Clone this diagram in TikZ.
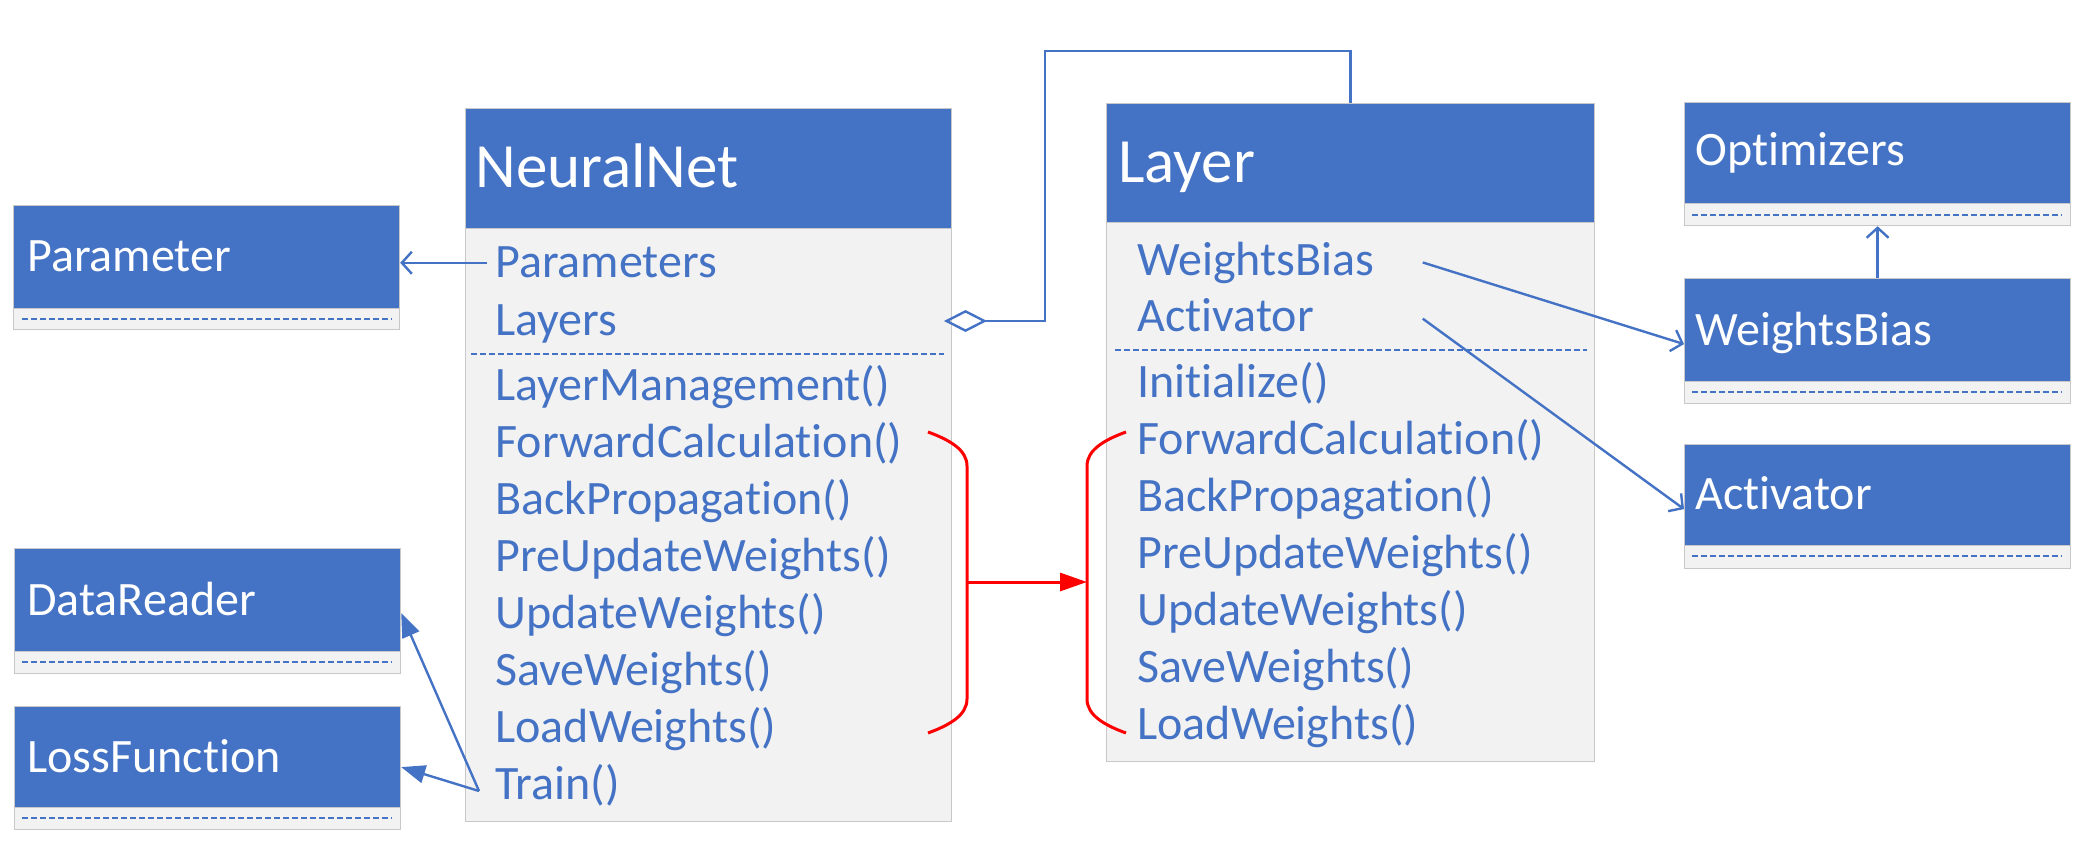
\documentclass[tikz,border=0pt]{standalone}
\usepackage{fontspec}
\setmainfont{Carlito}[RawFeature={-liga}]
\usetikzlibrary{arrows.meta,calc}
\definecolor{ublue}{HTML}{4472C4}
\definecolor{bodyg}{HTML}{F2F2F2}
\definecolor{edgeg}{HTML}{C8C8C8}
\begin{document}
\begin{tikzpicture}[x=0.5pt,y=-0.5pt,
 hdr/.style={draw=edgeg, line width=0.6pt, fill=ublue, anchor=north west, inner sep=0, minimum width=193pt},
 bdy/.style={draw=edgeg, line width=0.6pt, fill=bodyg, anchor=north west, inner sep=0, minimum width=193pt},
 ttl/.style={anchor=base west, inner sep=0, text=white, font=\fontsize{24}{29}\selectfont},
 bigttl/.style={anchor=base west, inner sep=0, text=white, font=\fontsize{31.5}{38}\selectfont},
 itm/.style={anchor=base west, inner sep=0, text=ublue, font=\fontsize{24}{29}\selectfont},
 dsh/.style={ublue, line width=0.9pt, dash pattern=on 3pt off 1.5pt},
 barb/.style={ublue, line width=1.2pt, -{Straight Barb[length=5pt,width=11pt]}},
 tri/.style={ublue, line width=1.2pt, -{Triangle[length=12pt,width=9pt]}},
 redln/.style={draw=red, line width=1.5pt}
]
\useasboundingbox (0,0) rectangle (2100,856);

% ---- left small boxes
\node[bdy, minimum height=10.5pt] (paramB) at (13,308) {};
\node[hdr, minimum height=51.5pt] (paramH) at (13,205) {};
\node[ttl] (paramT) at (27,271) {Parameter};
\draw[dsh] (22,319) -- (392,319);

\node[bdy, minimum height=11pt] (drB) at (14,651) {};
\node[hdr, minimum height=51.5pt] (drH) at (14,548) {};
\node[ttl] (drT) at (27,615) {DataReader};
\draw[dsh] (22,662) -- (392,662);

\node[bdy, minimum height=11pt] (lfB) at (14,807) {};
\node[hdr, minimum height=50.5pt] (lfH) at (14,706) {};
\node[ttl] (lfT) at (27,772) {LossFunction};
\draw[dsh] (22,818) -- (392,818);

% ---- NeuralNet
\node[bdy, minimum width=243pt, minimum height=296.5pt] (nnB) at (465,228) {};
\node[hdr, minimum width=243pt, minimum height=60pt] (nnH) at (465,108) {};
\node[bigttl] (nnT) at (475,187) {NeuralNet};
\node[itm] (itParams) at (495,278) {Parameters};
\node[itm] (itLayers) at (495,335) {Layers};
\draw[dsh] (471,354) -- (944,354);
\node[itm] (nnM1) at (495,400) {LayerManagement()};
\node[itm] (nnM2) at (495,457) {ForwardCalculation()};
\node[itm] (nnM3) at (495,514) {BackPropagation()};
\node[itm] (nnM4) at (495,571) {PreUpdateWeights()};
\node[itm] (nnM5) at (495,628) {UpdateWeights()};
\node[itm] (nnM6) at (495,685) {SaveWeights()};
\node[itm] (nnM7) at (495,742) {LoadWeights()};
\node[itm] (itTrain) at (495,799) {Train()};

% ---- Layer
\node[bdy, minimum width=244pt, minimum height=269.5pt] (layB) at (1106,222) {};
\node[hdr, minimum width=244pt, minimum height=59.5pt] (layH) at (1106,103) {};
\node[bigttl] (layT) at (1118,183) {Layer};
\node[itm] (itWB) at (1137,275) {WeightsBias};
\node[itm] (itAct) at (1137,331) {Activator};
\draw[dsh] (1115,350) -- (1587,350);
\node[itm] (layM1) at (1137,397) {Initialize()};
\node[itm] (layM2) at (1137,454) {ForwardCalculation()};
\node[itm] (layM3) at (1137,511) {BackPropagation()};
\node[itm] (layM4) at (1137,568) {PreUpdateWeights()};
\node[itm] (layM5) at (1137,625) {UpdateWeights()};
\node[itm] (layM6) at (1137,682) {SaveWeights()};
\node[itm] (layM7) at (1137,739) {LoadWeights()};

% ---- right small boxes
\node[bdy, minimum height=11pt] (optB) at (1684,203) {};
\node[hdr, minimum height=50.5pt] (optH) at (1684,102) {};
\node[ttl] (optT) at (1695,166) {Optimizers};
\draw[dsh] (1692,215) -- (2062,215);

\node[bdy, minimum height=11pt] (wbB) at (1684,381) {};
\node[hdr, minimum height=51.5pt] (wbH) at (1684,278) {};
\node[ttl] (wbT) at (1695,345) {WeightsBias};
\draw[dsh] (1692,392) -- (2062,392);

\node[bdy, minimum height=11.5pt] (actB) at (1684,545) {};
\node[hdr, minimum height=50.5pt] (actH) at (1684,444) {};
\node[ttl] (actT) at (1695,509) {Activator};
\draw[dsh] (1692,556) -- (2062,556);

% ---- connectors
\draw[barb] ([xshift=-4pt]itParams.west) -- (itParams.west -| paramH.east);
\coordinate (trainS) at ([shift={(-8pt,4pt)}]itTrain.base west);
\draw[tri] (trainS) -- ([yshift=-6.5pt]drH.east);
\draw[tri] (trainS) -- ([yshift=-5pt]lfH.east);

\coordinate (cTop) at (1045,51);
\coordinate (dmd) at (944,321);
\draw[ublue, line width=1.2pt, -{Diamond[open,length=21.5pt,width=11pt]}] (layH.north) |- (cTop) |- (dmd);

\coordinate (wbS) at ([xshift=24pt]itWB.east);
\coordinate (actS) at (wbS |- itAct.east);
\draw[barb] (wbS) -- ([yshift=-7pt]wbH.west);
\draw[barb] ([yshift=-2pt]actS) -- ([yshift=-7pt]actH.west);
\draw[barb] (wbH.north) -- (optB.south);

% ---- red brackets
\draw[redln] (928,432) .. controls (950,440) and (967,450) .. (967,466) -- (967,699) .. controls (967,715) and (950,725) .. (928,733);
\draw[redln] (1126,432) .. controls (1104,440) and (1087,450) .. (1087,466) -- (1087,699) .. controls (1087,715) and (1104,725) .. (1126,733);
\coordinate (brL) at (967,582);
\coordinate (brR) at (1087,582);
\draw[redln, -{Triangle[length=13.5pt,width=9pt]}] (brL) -- (brR);
\end{tikzpicture}
\end{document}
